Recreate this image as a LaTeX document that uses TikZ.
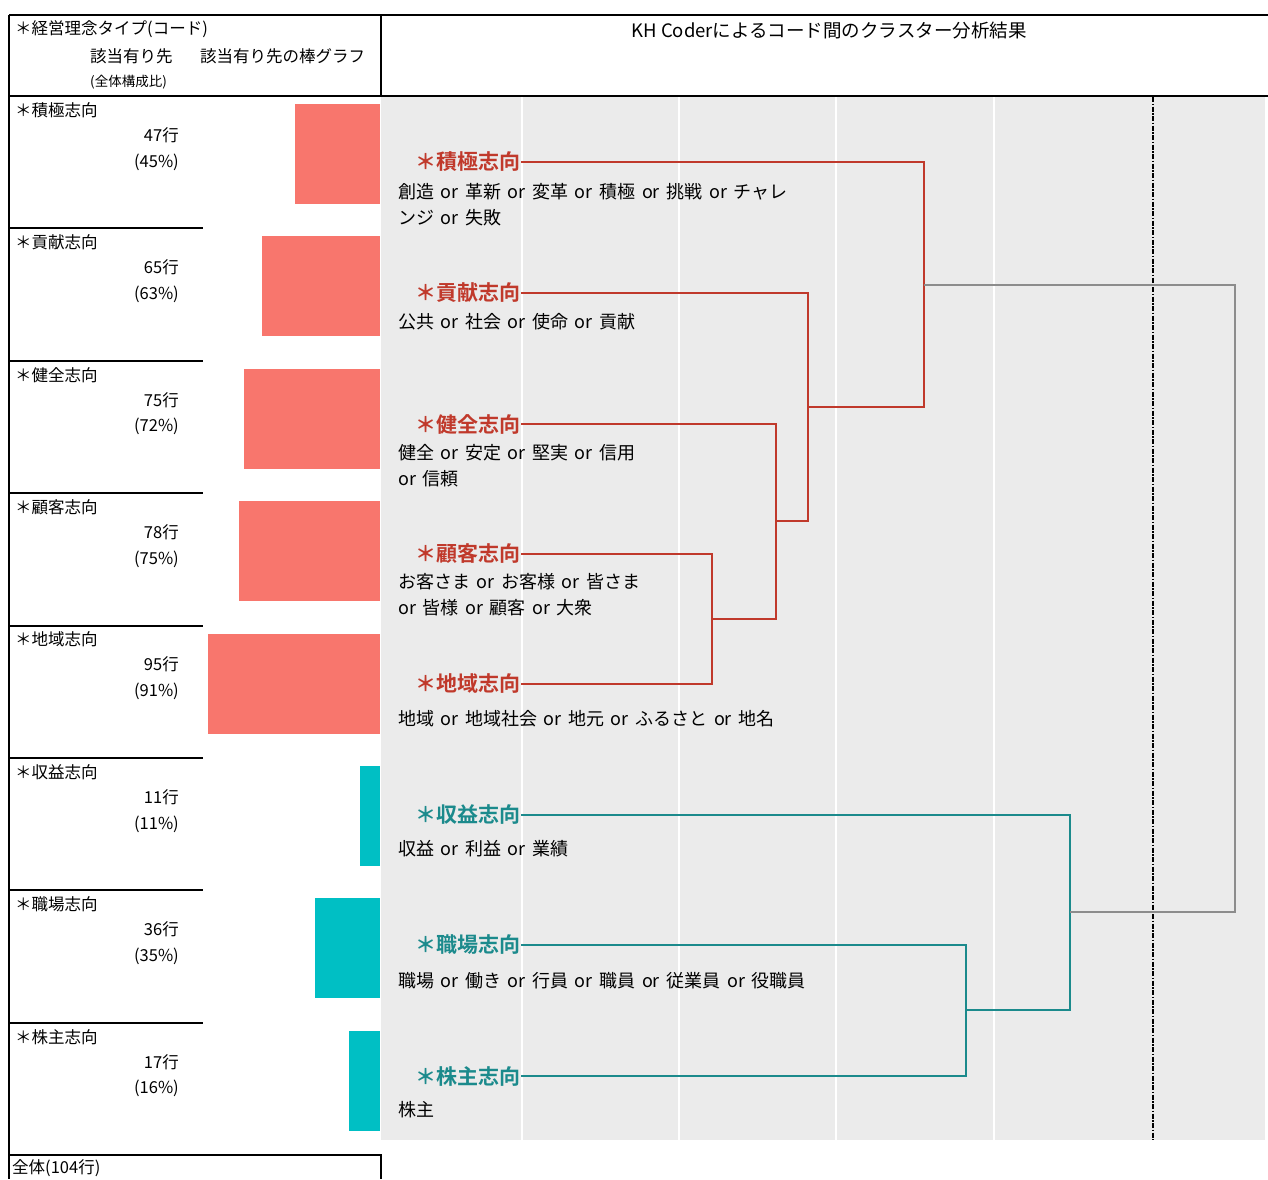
\documentclass[tikz,border=0pt]{standalone}
\usepackage{fontspec}
\setmainfont{Noto Sans CJK JP}[BoldFont={Noto Sans CJK JP Bold}]

\definecolor{barred}{HTML}{F8766D}
\definecolor{barcyan}{HTML}{00BFC4}
\definecolor{dendred}{HTML}{C0392B}
\definecolor{dendteal}{HTML}{1B8A8C}
\definecolor{dendgrey}{HTML}{8C8C8C}
\definecolor{panel}{HTML}{EBEBEB}

\newcommand\descfont{\fontsize{18}{26}\selectfont\spaceskip=6.6pt plus 1pt\relax}

\tikzset{frame/.style = {line width=2pt, black},
         rowline/.style = {line width=2pt, black},
         gridline/.style = {line width=1.5pt, white},
         plain/.style = {inner sep=0pt, font=\fontsize{16.5}{19}\selectfont},
         small/.style = {inner sep=0pt, font=\fontsize{13.5}{16}\selectfont},
         desc/.style = {inner sep=0pt, anchor=west, font=\descfont, align=left},
         clab/.style = {inner sep=0pt, anchor=east, text=#1,
                        font=\fontsize{21}{24}\selectfont\bfseries},
         branch/.style = {line width=1.6pt, draw=#1},
         branch/.default=dendred
        }

\begin{document}
\begin{tikzpicture}[x=1pt, y=-1pt]
  \useasboundingbox (0,0) rectangle (1268,1179);
  % plot panel
  \fill[panel] (381,97) rectangle (1265,1140);
  \foreach \gx in {522,679,836,994}
    \draw[gridline] (\gx,97) -- (\gx,1140);
  \draw[line width=1.3pt, dash pattern=on 5pt off 1.5pt on 1.5pt off 1.5pt]
    (1153,97) -- (1153,1140);

  % header
  \draw[frame] (9,15) -- (1268,15);
  \draw[frame] (9,96) -- (1268,96);
  \draw[frame] (381,15) -- (381,96);
  \draw[frame] (9,15) -- (9,1179);
  \draw[frame] (9,1155) -- (381,1155) -- (381,1179);
  \node[plain, anchor=west] (head) at (15,29) {＊経営理念タイプ(コード)};
  \node[plain, anchor=west] (headcnt) at (90,56) {該当有り先};
  \node[plain, anchor=west] (headbar) at (200,56) {該当有り先の棒グラフ};
  \node[small, anchor=west] (headpct) at (90,82) {(全体構成比)};
  \node[plain, font=\fontsize{18.5}{20}\selectfont] (title) at (829,31)
    {KH Coderによるコード間のクラスター分析結果};
  \node[plain, anchor=west] (total) at (12,1168) {全体(104行)};

  % rows of the left table with bars
  \foreach \i/\name/\cnt/\pct/\w/\col in {0/積極志向/47/45/85/barred,
                                          1/貢献志向/65/63/118/barred,
                                          2/健全志向/75/72/136/barred,
                                          3/顧客志向/78/75/141/barred,
                                          4/地域志向/95/91/172/barred,
                                          5/収益志向/11/11/20/barcyan,
                                          6/職場志向/36/35/65/barcyan,
                                          7/株主志向/17/16/31/barcyan} {
    \pgfmathsetmacro\top{96+132.4*\i}
    \ifnum\i>0 \draw[rowline] (9,\top) -- (203,\top); \fi
    \fill[\col] (380-\w,\top+8) rectangle (380,\top+108);
    \node[plain, anchor=west] (code\i) at (15,\top+14) {＊\name};
    \node[plain, anchor=east] (cnt\i) at (179,\top+39) {\cnt 行};
    \node[plain, anchor=east] (pct\i) at (179,\top+66) {(\pct\%)};
  }

  % cluster labels
  \node[clab=dendred]  (k1) at (521,162)  {＊積極志向};
  \node[clab=dendred]  (k2) at (521,293)  {＊貢献志向};
  \node[clab=dendred]  (k3) at (521,424)  {＊健全志向};
  \node[clab=dendred]  (k4) at (521,554)  {＊顧客志向};
  \node[clab=dendred]  (k5) at (521,684)  {＊地域志向};
  \node[clab=dendteal] (k6) at (521,815)  {＊収益志向};
  \node[clab=dendteal] (k7) at (521,945)  {＊職場志向};
  \node[clab=dendteal] (k8) at (521,1076) {＊株主志向};

  % code words
  \node[desc] (d1) at (398,205) {創造 or 革新 or 変革 or 積極 or 挑戦 or チャレ\\ンジ or 失敗};
  \node[desc] (d2) at (398,322) {公共 or 社会 or 使命 or 貢献};
  \node[desc] (d3) at (398,466) {健全 or 安定 or 堅実 or 信用\\or 信頼};
  \node[desc] (d4) at (398,595) {お客さま or お客様 or 皆さま\\or 皆様 or 顧客 or 大衆};
  \node[desc] (d5) at (398,719) {地域 or 地域社会 or 地元 or ふるさと or 地名};
  \node[desc] (d6) at (398,849) {収益 or 利益 or 業績};
  \node[desc] (d7) at (398,981) {職場 or 働き or 行員 or 職員 or 従業員 or 役職員};
  \node[desc] (d8) at (398,1110) {株主};

  % merge points
  \coordinate (j45)   at (712,619);
  \coordinate (j345)  at (776,521);
  \coordinate (j2345) at (808,407);
  \coordinate (j15)   at (924,285);
  \coordinate (j78)   at (966,1010);
  \coordinate (j678)  at (1070,912);
  \coordinate (jroot) at (1235,598);

  % dendrogram
  \draw[branch] (k4.east) -| (j45) |- (k5.east);
  \draw[branch] (k3.east) -| (j345) |- (j45);
  \draw[branch] (k2.east) -| (j2345) |- (j345);
  \draw[branch] (k1.east) -| (j15) |- (j2345);
  \draw[branch=dendteal] (k7.east) -| (j78) |- (k8.east);
  \draw[branch=dendteal] (k6.east) -| (j678) |- (j78);
  \draw[branch=dendgrey] (j15) -| (jroot) |- (j678);
\end{tikzpicture}
\end{document}
